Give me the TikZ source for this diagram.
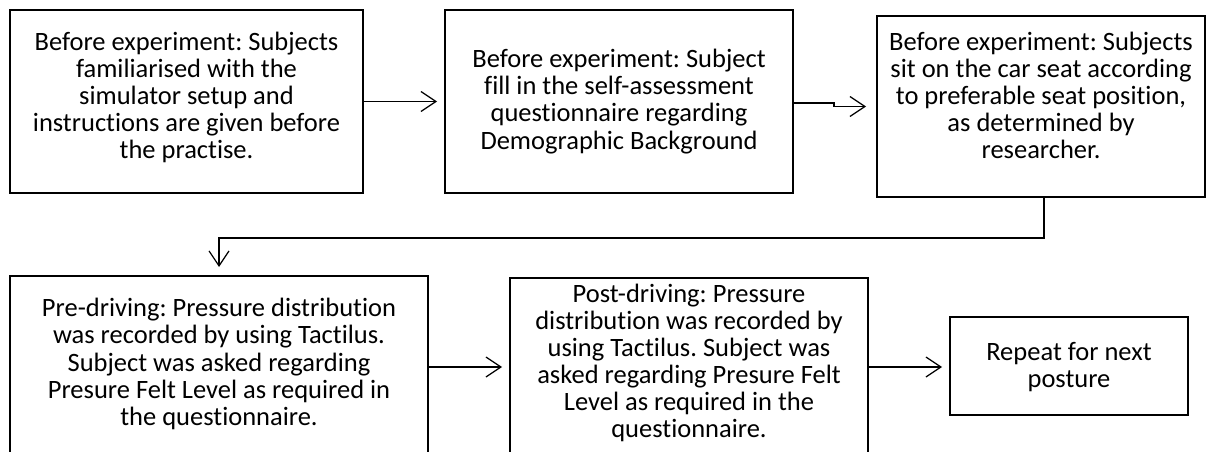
\documentclass[tikz,border=0pt]{standalone}
\usepackage{fontspec}
\setmainfont[Ligatures=NoCommon]{Carlito}
\usetikzlibrary{arrows.meta}
\begin{document}
\frenchspacing
\begin{tikzpicture}[x=1pt,y=1pt,
  box/.style={draw=black,line width=2pt,inner sep=0pt},
  txt/.style={align=center,inner sep=0pt,font=\fontsize{26.5}{27.1}\selectfont},
  conn/.style={line width=1.2pt,-{Straight Barb[length=15pt,width=20pt,line width=1.2pt]}}]
\useasboundingbox (0,0) rectangle (1207,-452);
\node[box,minimum width=353pt,minimum height=183pt] (b1) at (186.5,-101.5) {};
\node[box,minimum width=348pt,minimum height=183pt] (b2) at (619,-101.5) {};
\node[box,minimum width=328pt,minimum height=181pt] (b3) at (1041,-106.5) {};
\node[box,minimum width=418pt,minimum height=192pt] (b4) at (219,-372) {};
\node[box,minimum width=358pt,minimum height=178pt] (b5) at (689,-367) {};
\node[box,minimum width=238pt,minimum height=98pt] (b6) at (1069,-366) {};
\node[txt] (t1) at ([yshift=4pt]b1.center)
  {Before experiment: Subjects\\familiarised with the\\simulator setup and\\instructions are given before\\the practise.};
\node[txt] (t2) at (b2.center)
  {Before experiment: Subject\\fill in the self-assessment\\questionnaire regarding\\Demographic Background};
\node[txt] (t3) at ([yshift=11pt]b3.center)
  {Before experiment: Subjects\\sit on the car seat according\\to preferable seat position,\\as determined by\\researcher.};
\node[txt] (t4) at ([yshift=8pt]b4.center)
  {Pre-driving: Pressure distribution\\was recorded by using Tactilus.\\Subject was asked regarding\\Presure Felt Level as required in\\the questionnaire.};
\node[txt] (t5) at ([yshift=4pt]b5.center)
  {Post-driving: Pressure\\distribution was recorded by\\using Tactilus. Subject was\\asked regarding Presure Felt\\Level as required in the\\questionnaire.};
\node[txt] (t6) at ([yshift=-1pt]b6.center)
  {Repeat for next\\posture};
\draw[conn,shorten >=7pt] (b1.east) -- (b2.west);
\draw[conn,shorten >=10pt] ([yshift=-1.5pt]b2.east) -- ++(40pt,0) |- (b3.west);
\draw[conn,shorten >=8pt] ([xshift=3pt]b3.south) -- ++(0,-40pt) -| (b4.north);
\draw[conn,shorten >=7pt] (b4.east |- b5.west) -- (b5.west);
\draw[conn,shorten >=7pt] (b5.east) -- (b5.east -| b6.west);
\end{tikzpicture}
\end{document}
